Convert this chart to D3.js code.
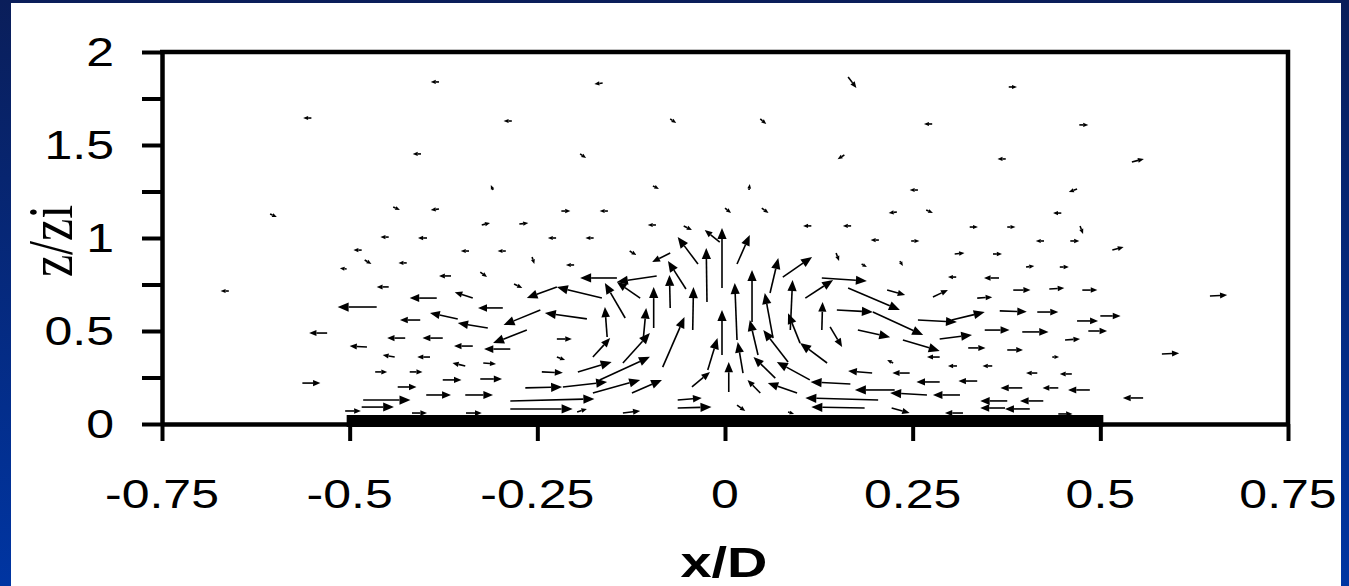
<!DOCTYPE html>
<html>
<head>
<meta charset="utf-8">
<script src="https://cdn.jsdelivr.net/npm/d3@7"></script>
<style>
  body { margin: 0; overflow: hidden; }
  text { fill: #000; }
</style>
</head>
<body>
<svg id="quiver_chart"></svg>
<script>
// measurement points (x/D, z/zi) and velocity components, same order in every array
const gridX = [
  -0.381,-0.163,0.164,0.378,-0.551,-0.284,-0.073,0.047,0.276,0.472,
  -0.405,-0.193,0.159,0.374,0.542,-0.309,-0.096,0.032,0.257,0.469,
  -0.606,-0.442,-0.381,-0.218,-0.156,0.000,0.049,0.229,0.268,0.448,
  -0.324,-0.274,-0.092,-0.055,0.115,0.168,0.326,0.376,0.473,-0.448,
  -0.397,-0.225,-0.175,0.205,0.248,0.425,0.460,-0.484,-0.341,-0.292,
  -0.127,0.306,0.357,0.516,-0.480,-0.424,-0.257,-0.201,0.148,0.182,
  0.233,0.401,0.446,-0.504,-0.365,-0.326,0.308,0.365,-0.448,-0.281,
  0.384,0.432,0.476,0.277,0.336,0.216,-0.384,-0.464,-0.336,-0.296,
  -0.406,-0.356,-0.316,-0.530,-0.426,-0.376,-0.477,-0.336,-0.286,-0.440,
  -0.393,-0.346,-0.322,-0.466,-0.420,-0.224,-0.224,-0.376,-0.326,-0.563,
  -0.436,-0.398,-0.346,-0.482,-0.484,-0.506,-0.417,-0.345,-0.286,-0.286,
  -0.266,-0.216,-0.244,-0.196,-0.167,-0.176,-0.124,-0.136,-0.176,-0.157,
  -0.109,-0.095,-0.073,-0.043,-0.083,-0.023,-0.044,-0.004,0.005,-0.004,
  -0.024,0.016,-0.036,-0.052,-0.073,-0.144,-0.091,-0.133,-0.113,-0.224,
  -0.164,-0.246,-0.184,-0.264,-0.063,-0.063,-0.136,-0.197,0.016,0.044,
  0.024,0.067,0.047,0.016,0.036,0.087,0.064,0.060,0.077,0.107,
  0.129,0.164,0.129,0.140,0.100,0.149,0.197,0.177,0.237,0.257,
  0.286,0.302,0.084,0.136,0.113,0.096,0.167,0.226,0.269,0.313,
  0.286,0.336,0.196,0.246,0.204,0.186,0.222,0.317,0.224,0.286,
  0.309,0.324,0.376,0.436,0.356,0.416,0.462,0.396,0.444,0.486,
  0.376,0.424,0.373,0.406,0.557,0.444,0.582,0.646,0.366,0.416,
  0.469,0.500,0.346,0.396,0.453,0.484,0.084,-0.007,-0.661
]
const gridZ = [
  1.839,1.833,1.866,1.812,1.645,1.629,1.640,1.640,1.613,1.608,
  1.452,1.452,1.446,1.425,1.409,1.258,1.280,1.258,1.258,1.263,
  1.129,1.167,1.156,1.145,1.145,1.161,1.161,1.140,1.151,1.134,
  1.070,1.075,1.070,1.065,1.065,1.065,1.059,1.059,1.065,1.005,
  1.000,1.000,1.000,0.989,0.984,0.984,0.984,0.935,0.930,0.930,
  0.930,0.914,0.914,0.935,0.882,0.866,0.898,0.855,0.919,0.860,
  0.876,0.844,0.844,0.833,0.796,0.817,0.790,0.785,0.737,0.753,
  0.720,0.726,0.720,0.683,0.677,0.720,0.677,0.629,0.677,0.624,
  0.559,0.565,0.516,0.489,0.462,0.462,0.414,0.419,0.403,0.360,
  0.360,0.312,0.328,0.280,0.280,0.457,0.360,0.237,0.242,0.220,
  0.199,0.156,0.156,0.129,0.091,0.070,0.059,0.059,0.124,0.081,
  0.194,0.199,0.280,0.280,0.237,0.167,0.167,0.328,0.360,0.468,
  0.452,0.516,0.624,0.505,0.306,0.290,0.199,0.371,0.172,0.731,
  0.656,0.860,0.860,0.726,0.919,0.785,0.796,0.570,0.677,0.737,
  0.677,0.613,0.565,0.505,0.129,0.086,0.059,0.065,0.102,0.371,
  0.274,0.247,0.167,0.452,0.548,0.505,0.462,0.704,0.790,0.677,
  0.785,0.731,0.505,0.522,0.435,0.613,0.602,0.505,0.452,0.559,
  0.457,0.559,0.333,0.328,0.237,0.167,0.215,0.183,0.156,0.156,
  0.226,0.231,0.274,0.274,0.129,0.086,0.086,0.059,0.328,0.360,
  0.312,0.409,0.398,0.360,0.312,0.274,0.269,0.194,0.194,0.183,
  0.124,0.124,0.086,0.081,0.140,0.054,0.376,0.688,0.608,0.602,
  0.554,0.581,0.505,0.495,0.452,0.500,0.065,0.978,0.715
]
const velU = [
  -0.011,-0.011,0.011,0.011,-0.011,-0.011,0.008,0.008,-0.011,0.012,
  -0.011,0.008,-0.009,-0.011,0.016,-0.003,0.008,0.001,-0.011,-0.011,
  0.009,0.009,-0.011,0.012,-0.011,0.008,0.009,-0.011,0.009,-0.011,
  0.011,0.012,-0.011,0.011,-0.011,-0.011,0.011,0.011,0.004,-0.011,
  -0.012,-0.011,-0.011,-0.011,0.011,-0.011,0.012,-0.011,-0.011,-0.011,
  0.009,0.013,0.012,0.015,0.009,-0.011,0.003,-0.011,0.004,0.007,
  0.004,0.011,0.012,-0.009,-0.016,0.009,-0.011,-0.020,-0.016,0.011,
  0.023,0.020,0.020,0.020,0.020,0.024,-0.036,-0.052,-0.024,-0.033,
  -0.027,-0.037,-0.040,-0.024,-0.024,-0.027,-0.023,-0.025,-0.035,-0.016,
  -0.017,-0.017,0.017,0.016,0.017,0.020,0.011,0.025,0.029,0.024,
  0.025,0.033,0.037,0.063,0.043,0.021,0.020,0.021,0.112,0.083,
  0.049,0.059,0.028,0.045,0.067,0.063,0.040,0.036,0.023,-0.003,
  0.004,0,-0.001,0.001,0.029,0.013,0.024,0,0,0,
  -0.001,0.017,-0.027,-0.024,-0.024,-0.049,-0.053,-0.027,-0.031,-0.040,
  -0.060,-0.049,-0.056,-0.045,0.032,0.045,0.023,0.013,0.011,-0.011,
  -0.007,-0.029,-0.017,-0.003,0,0.003,-0.011,0.011,0.039,0.037,
  0.060,0.069,0.001,0.016,-0.016,0.048,0.067,0.043,0.049,0.052,
  0.043,0.044,-0.033,-0.036,-0.044,-0.039,-0.053,-0.053,-0.049,-0.036,
  -0.031,-0.025,-0.032,-0.023,-0.097,-0.071,0.024,-0.024,-0.008,-0.017,
  -0.012,0.023,0.021,0.009,-0.013,-0.015,-0.016,-0.029,-0.021,-0.029,
  -0.036,-0.031,-0.033,-0.033,-0.027,0.019,0.023,0.023,0.036,0.028,
  0.028,0.027,0.033,0.035,0.020,0.025,0.008,-0.020,-0.011
]
const velW = [
  0,-0.005,-0.059,0,0,0,-0.022,-0.027,0,0,
  0,-0.022,-0.022,0,0.016,0.027,-0.016,0.032,0,-0.016,
  -0.016,-0.016,-0.005,0,0,-0.027,-0.027,-0.005,-0.016,0,
  0.011,0.005,0,-0.022,0,0,0,0,-0.043,0,
  0,0,0,0,0,0,0,0,0,0,
  -0.022,0.005,0,0.016,-0.022,0,-0.038,0,-0.043,-0.016,
  -0.027,0.005,0,0.005,0,-0.027,0,0,0,-0.022,
  0,0.005,0,0.038,0.005,-0.027,0,0,0.032,0,
  0,0.032,0.027,0,0,0,0.005,0,0,0.011,
  0,0.016,-0.005,0,0,0,-0.016,0,0,0,
  0,0,0,0,0,0,0,0,0.011,0,
  0.005,0.027,-0.005,0.054,0.124,0.070,0.070,0.161,0.102,0.161,
  0.172,0.220,0.177,0.231,0.269,0.172,0.081,0.242,0.161,0.323,
  0.290,0.156,0.145,0.151,-0.048,0,-0.032,0.188,0.086,-0.059,
  0.059,-0.081,0.032,-0.070,0.011,0.005,0.011,0.016,-0.032,0.188,
  0.167,0.113,0.070,0.306,0.280,0.269,0.242,0.188,0.108,0.097,
  -0.016,-0.118,0.151,-0.108,0.161,-0.011,-0.124,-0.038,-0.059,-0.011,
  0.022,0.043,0.172,0.108,0.097,0.054,0.011,0,0.011,0,
  0,0,0.011,0,0.011,0.005,-0.027,0,0.016,0,
  0,0,0,0,0,0,0,0,0,0,
  0,0,0,0,0,0,0.005,0.005,-0.005,0,
  0,0,0,0,0.005,0,-0.011,0.065,0
]

const xTicks = [-0.75, -0.5, -0.25, 0, 0.25, 0.5, 0.75]
const xTickLabels = ['-0.75', '-0.5', '-0.25', '0', '0.25', '0.5', '0.75']
const zTicks = [0, 0.5, 1, 1.5, 2]
const zTickLabels = ['0', '0.5', '1', '1.5', '2']
const zMinorTicks = [0, 0.25, 0.5, 0.75, 1, 1.25, 1.5, 1.75, 2]
const plate = [-0.5, 0.5]

let W = 1349, H = 586
let m = {top: 52, left: 162, right: 61, bottom: 162}

let svg = d3.select('#quiver_chart')
    .attr('width', W)
    .attr('height', H)

// slide background
let grad = svg.append('defs').append('linearGradient')
    .attr('id', 'bg')
    .attr('x1', 0).attr('y1', 0).attr('x2', 0).attr('y2', 1)
grad.append('stop').attr('offset', '0%').attr('stop-color', '#0a1e5a')
grad.append('stop').attr('offset', '100%').attr('stop-color', '#0035a2')

svg.append('rect').attr('width', W).attr('height', H).attr('fill', 'url(#bg)')
svg.append('rect')
    .attr('x', 11).attr('y', 3)
    .attr('width', 1330).attr('height', H - 3)
    .attr('fill', '#fff')

let xScale = d3.scaleLinear().domain([-0.75, 0.75]).range([m.left, W - m.right])
let zScale = d3.scaleLinear().domain([0, 2]).range([H - m.bottom, m.top])

// axes (ticks only, labels drawn separately)
svg.append('g')
    .attr('transform', `translate(${m.left},0)`)
    .call(d3.axisLeft(zScale).tickValues(zMinorTicks).tickSize(20).tickSizeOuter(0).tickFormat(''))
    .call(g => g.selectAll('line').attr('stroke', '#000').attr('stroke-width', 4))
    .call(g => g.select('.domain').attr('stroke', '#000').attr('stroke-width', 4.5))

svg.append('g')
    .attr('transform', `translate(0,${zScale(0)})`)
    .call(d3.axisBottom(xScale).tickValues(xTicks).tickSize(17).tickSizeOuter(0).tickFormat(''))
    .call(g => g.selectAll('line').attr('stroke', '#000').attr('stroke-width', 4))
    .call(g => g.select('.domain').attr('stroke', '#000').attr('stroke-width', 4.5))

// top and right frame
svg.append('path')
    .attr('d', `M${xScale(-0.75) - 2},${zScale(2)}H${xScale(0.75)}V${zScale(0)}`)
    .attr('fill', 'none')
    .attr('stroke', '#000')
    .attr('stroke-width', 4.5)

// plate along the floor
svg.append('rect')
    .attr('x', xScale(plate[0]) - 3)
    .attr('y', zScale(0) - 9)
    .attr('width', xScale(plate[1]) - xScale(plate[0]) + 6)
    .attr('height', 12)
    .attr('fill', '#000')

// tick labels
svg.selectAll('.zlab')
    .data(zTicks)
    .enter().append('text')
    .attr('class', 'zlab')
    .attr('transform', d => `translate(114,${zScale(d) + 14}) scale(1.25,1)`)
    .attr('text-anchor', 'end')
    .style('font-family', '"Liberation Sans", Arial, sans-serif')
    .style('font-size', '40px')
    .text((d, i) => zTickLabels[i])

svg.selectAll('.xlab')
    .data(xTicks)
    .enter().append('text')
    .attr('class', 'xlab')
    .attr('transform', d => `translate(${xScale(d)},508) scale(1.25,1)`)
    .attr('text-anchor', 'middle')
    .style('font-family', '"Liberation Sans", Arial, sans-serif')
    .style('font-size', '40px')
    .text((d, i) => xTickLabels[i])

// axis titles
svg.append('text')
    .attr('transform', 'translate(724,577) scale(1.3,1)')
    .attr('text-anchor', 'middle')
    .style('font-family', '"Liberation Sans", Arial, sans-serif')
    .style('font-size', '43px')
    .style('font-weight', 'bold')
    .text('x/D')

svg.append('text')
    .attr('transform', 'translate(72,241) scale(1.25,1) rotate(-90)')
    .attr('text-anchor', 'middle')
    .style('font-family', '"Liberation Serif", "Times New Roman", serif')
    .style('font-size', '50px')
    .text('z/zi')

// velocity vectors
let arrows = svg.append('g').attr('class', 'arrows')

gridX.forEach(function(xv, i) {
    let x0 = xScale(xv), y0 = zScale(gridZ[i])
    let x1 = xScale(xv + velU[i]), y1 = zScale(gridZ[i] + velW[i])
    let len = Math.hypot(x1 - x0, y1 - y0)
    if (len < 0.5) return
    let ux = (x1 - x0) / len, uy = (y1 - y0) / len
    let h = Math.min(11, 3 + len * 0.24)
    let hw = h * 0.42
    let bx = x1 - ux * h, by = y1 - uy * h

    arrows.append('line')
        .attr('x1', x0).attr('y1', y0)
        .attr('x2', bx).attr('y2', by)
        .attr('stroke', '#000')
        .attr('stroke-width', 1.6)

    arrows.append('path')
        .attr('d', `M${x1},${y1}L${bx - uy * hw},${by + ux * hw}L${bx + uy * hw},${by - ux * hw}Z`)
        .attr('fill', '#000')
})
</script>
</body>
</html>
